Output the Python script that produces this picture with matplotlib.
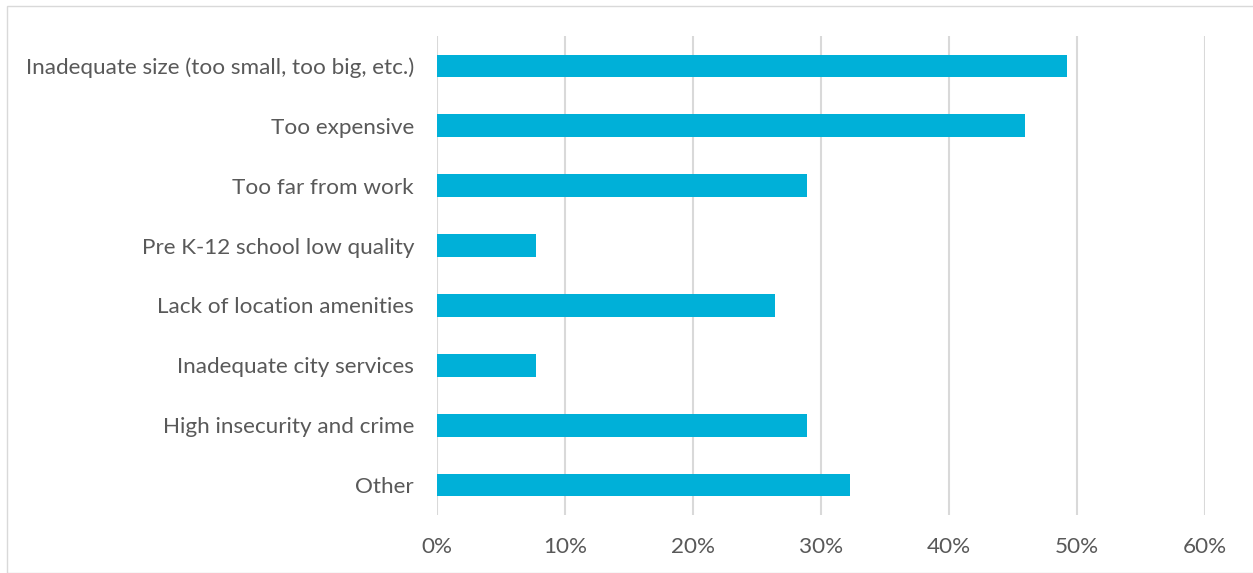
import matplotlib
matplotlib.use("Agg")
import matplotlib.pyplot as plt
from matplotlib.patches import Rectangle

categories = [
    "Inadequate size (too small, too big, etc.)",
    "Too expensive",
    "Too far from work",
    "Pre K-12 school low quality",
    "Lack of location amenities",
    "Inadequate city services",
    "High insecurity and crime",
    "Other",
]
values = [49.2, 45.9, 28.9, 7.7, 26.4, 7.7, 28.9, 32.3]
xticks = [0, 10, 20, 30, 40, 50, 60]
xticklabels = ["0%", "10%", "20%", "30%", "40%", "50%", "60%"]

plt.rcParams['font.family'] = ['Lato', 'DejaVu Sans']
W, H = 1253, 573
fig = plt.figure(figsize=(W / 100, H / 100), dpi=100)
fig.patches.append(Rectangle((7 / W, 0), 1.2, 1 - 6 / H, transform=fig.transFigure,
                             fill=False, edgecolor="#d9d9d9", linewidth=1.0))
ax = fig.add_axes([437 / W, 1 - 515 / H, (1205 - 437) / W, (515 - 36) / H])

y = list(range(len(categories)))
ax.barh(y, values, height=0.38, color="#00b0d8", zorder=3)
ax.set_ylim(len(categories) - 0.5, -0.5)
ax.set_xlim(0, 60)
ax.set_xticks(xticks)
ax.set_xticklabels(xticklabels)
ax.set_yticks(y)
ax.set_yticklabels(categories)
ax.grid(axis="x", color="#d9d9d9", linewidth=1.5, zorder=0)
for s in ax.spines.values():
    s.set_visible(False)
ax.tick_params(axis="both", length=0, labelsize=16.2, colors="#595959")
ax.tick_params(axis="x", pad=15.5)
ax.tick_params(axis="y", pad=16.5)

fig.savefig("out.png", dpi=100)
